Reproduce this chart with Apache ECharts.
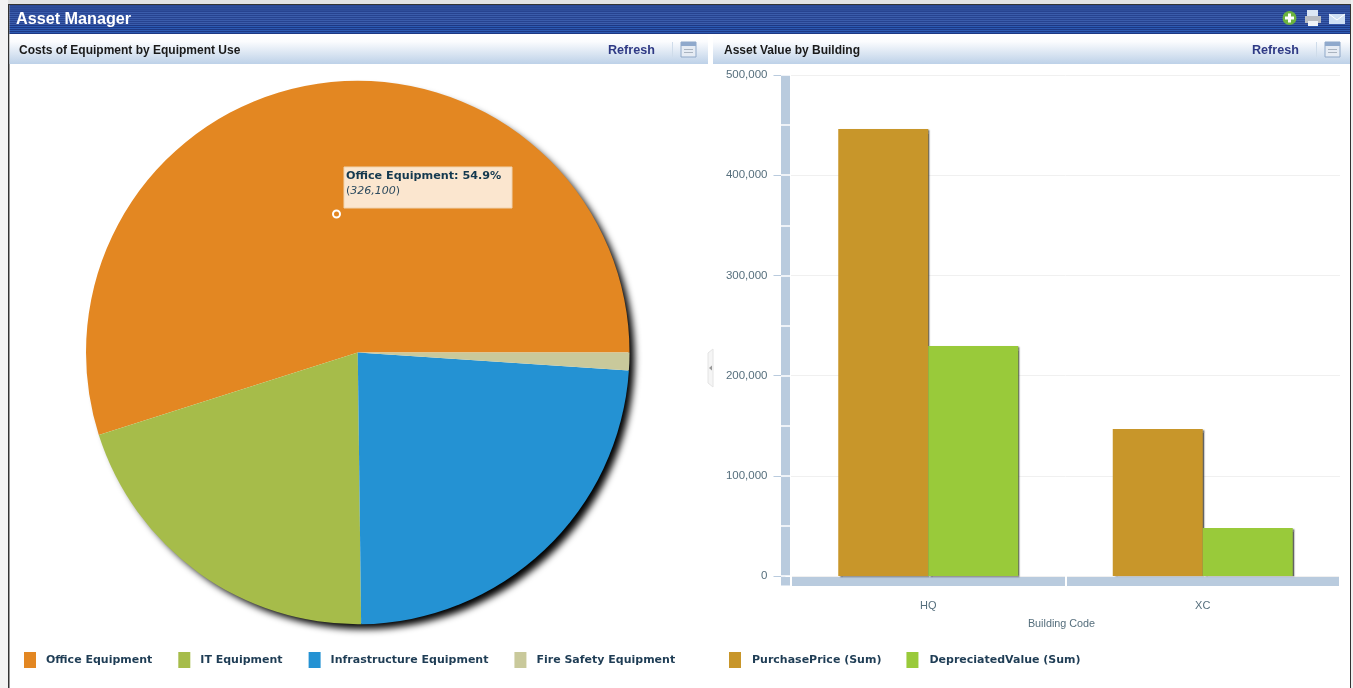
<!DOCTYPE html>
<html><head><meta charset="utf-8">
<style>html,body{margin:0;padding:0;background:#fff;overflow:hidden}#c{width:1353px;height:688px}</style>
<script src="https://cdn.jsdelivr.net/npm/echarts@6/dist/echarts.min.js"></script>
</head><body><div id="c"></div>
<script>
const useNames = ['Office Equipment','IT Equipment','Infrastructure Equipment','Fire Safety Equipment'];
const useCosts = [326100,120500,141000,6300];
const useColors = ['#e38722','#a6bc4a','#2492d3','#c9c99b'];
const buildings = ['HQ','XC'];
const purchasePrice = [446000,146800];
const depreciatedValue = [229500,48000];
const barNames = ['PurchasePrice (Sum)','DepreciatedValue (Sum)'];
const barColors = ['#c8962a','#99ca3a'];
const yTicks = [0,100000,200000,300000,400000,500000];
const pageTitle = 'Asset Manager';
const panelTitles = ['Costs of Equipment by Equipment Use','Asset Value by Building'];
const refreshLabel = 'Refresh';

const total = useCosts.reduce((a,b)=>a+b,0);
const band = '#b9cbde', axisText = '#566f7d', legendText = '#1f3d55';
const sans = '"Liberation Sans",Arial,sans-serif', wide = '"DejaVu Sans",Verdana,sans-serif';

function stripes(){
  const s=[], H=29;
  for(let i=0;i<H;i++){
    let col;
    const odd=i%2===1;
    if(i<6) col=odd?'#2e4d9a':'#2a4793';
    else if(i<20) col=odd?'#3a5cab':'#274390';
    else col=odd?'#2c5ab2':'#1d3884';
    s.push({offset:i/H,color:col},{offset:(i+1)/H,color:col});
  }
  return {type:'linear',x:0,y:0,x2:0,y2:1,colorStops:s};
}
const headGrad={type:'linear',x:0,y:0,x2:0,y2:1,colorStops:[{offset:0,color:'#ffffff'},{offset:.25,color:'#fbfcfe'},{offset:1,color:'#bdd1e8'}]};

function panelIcon(x){return [
  {type:'rect',shape:{x:x-9,y:42,width:1,height:15},style:{fill:'#cfdcea'}},
  {type:'rect',shape:{x:x,y:42,width:15,height:15},style:{fill:'#e6ecf4',stroke:'#8fa8c8',lineWidth:1}},
  {type:'rect',shape:{x:x,y:42,width:15,height:4},style:{fill:'#8fa9cc'}},
  {type:'rect',shape:{x:x+3,y:49,width:9,height:1},style:{fill:'#aab4c0'}},
  {type:'rect',shape:{x:x+3,y:52,width:9,height:1},style:{fill:'#aab4c0'}}
];}
const refreshText=x=>({type:'text',x:x,y:44,style:{text:refreshLabel,fill:'#2f3a85',font:'bold 12.6px '+sans}});

const graphics=[
  {type:'rect',shape:{x:0,y:0,width:1353,height:4},style:{fill:'#e2e2e2'}},
  {type:'rect',shape:{x:0,y:0,width:8,height:688},style:{fill:'#f3f3f3'}},
  {type:'rect',shape:{x:1351,y:0,width:2,height:688},style:{fill:'#f0f0f0'}},
  {type:'rect',shape:{x:8,y:4,width:1.5,height:684},style:{fill:'#333333'}},
  {type:'rect',shape:{x:1350,y:4,width:1,height:684},style:{fill:'#333333'}},
  {type:'rect',shape:{x:8,y:4,width:1343,height:1},style:{fill:'#333333'}},
  {type:'rect',shape:{x:9.5,y:5,width:1340.5,height:29},style:{fill:stripes()}},
  {type:'rect',shape:{x:9.5,y:34,width:698.5,height:30},style:{fill:headGrad}},
  {type:'rect',shape:{x:713,y:34,width:637,height:30},style:{fill:headGrad}},
  {type:'text',x:16,y:12,style:{text:pageTitle,fill:'#ffffff',font:'bold 16.2px '+sans}},
  refreshText(608),refreshText(1252),
  ...panelIcon(681),...panelIcon(1325),
  // page toolbar icons
  {type:'circle',shape:{cx:1289.5,cy:18,r:7},style:{fill:'#6cb33f'}},
  {type:'rect',shape:{x:1288,y:13.5,width:3,height:9},style:{fill:'#fff'}},
  {type:'rect',shape:{x:1285,y:16.5,width:9,height:3},style:{fill:'#fff'}},
  {type:'rect',shape:{x:1307,y:10,width:11,height:8},style:{fill:'#dbe6f4'}},
  {type:'rect',shape:{x:1305,y:16,width:16,height:7},style:{fill:'#b8bcc2'}},
  {type:'rect',shape:{x:1308,y:21,width:10,height:5},style:{fill:'#eef2f7'}},
  {type:'rect',shape:{x:1329,y:14,width:16,height:10},style:{fill:'#cfe0f5'}},
  {type:'polyline',shape:{points:[[1329,14],[1337,20],[1345,14]]},style:{stroke:'#ffffff',fill:'none',lineWidth:1}},
  // splitter handle
  {type:'polygon',shape:{points:[[708,353],[713,349],[713,387],[708,383]]},style:{fill:'#f5f5f5',stroke:'#e4e4e4',lineWidth:1}},
  {type:'polygon',shape:{points:[[709,368],[712,365.5],[712,370.5]]},style:{fill:'#999999'}},
  // corner of the axis band
  {type:'rect',shape:{x:781,y:577,width:9,height:8.5},style:{fill:band}},
  // static tooltip on the Office Equipment slice
  {type:'rect',z:100,shape:{x:344,y:167,width:168,height:41},style:{fill:'#fbe6cf',stroke:'#f0d3ae',lineWidth:1}},
  {type:'text',z:101,x:346,y:171,style:{text:useNames[0]+': '+(useCosts[0]/total*100).toFixed(1)+'%',fill:'#14394f',font:'bold 11.2px '+wide}},
  {type:'text',z:101,x:346,y:186,style:{text:'{p|(}{n|'+useCosts[0].toLocaleString('en-US')+'}{p|)}',
    rich:{p:{fill:'#2c4a5e',font:'11px '+wide},n:{fill:'#2c4a5e',font:'italic 11px '+wide}}}},
  {type:'circle',z:101,shape:{cx:336.5,cy:214,r:3.5},style:{fill:'#e38722',stroke:'#ffffff',lineWidth:2}}
];

const chart=echarts.init(document.getElementById('c'),null,{renderer:'canvas'});
chart.setOption({
  animation:false,
  backgroundColor:'#ffffff',
  title:[
    {text:panelTitles[0],left:19,top:45,padding:0,textStyle:{fontFamily:sans,fontSize:12,fontWeight:'bold',color:'#1a1a1a'}},
    {text:panelTitles[1],left:724,top:45,padding:0,textStyle:{fontFamily:sans,fontSize:12,fontWeight:'bold',color:'#1a1a1a'}}
  ],
  legend:[
    {data:useNames,left:24,top:652,padding:0,itemWidth:12,itemHeight:16,itemGap:26,icon:'rect',selectedMode:false,
     textStyle:{fontFamily:wide,fontSize:11,fontWeight:'bold',color:legendText,padding:[1,0,0,5]}},
    {data:barNames,left:729,top:652,padding:0,itemWidth:12,itemHeight:16,itemGap:25,icon:'rect',selectedMode:false,
     textStyle:{fontFamily:wide,fontSize:11,fontWeight:'bold',color:legendText,padding:[1,0,0,6]}}
  ],
  grid:{left:791,top:75,width:549,height:501},
  xAxis:[
    {type:'category',data:buildings,position:'bottom',z:6,
     axisLine:{show:false,onZero:false},
     axisTick:{show:true,length:10,lineStyle:{color:'#ffffff',width:2}},
     axisLabel:{color:axisText,fontFamily:sans,fontSize:11,margin:24},
     name:'Building Code',nameLocation:'middle',nameGap:43,
     nameTextStyle:{color:axisText,fontFamily:sans,fontSize:10.8,padding:[0,8,0,0]}},
    {type:'category',data:buildings,position:'bottom',offset:5,z:3,
     axisLine:{show:true,onZero:false,lineStyle:{color:band,width:9,cap:'butt'}},
     axisTick:{show:false},axisLabel:{show:false}}
  ],
  yAxis:[
    {type:'value',min:0,max:500000,interval:100000,position:'left',offset:5.5,z:3,
     axisLine:{show:true,onZero:false,lineStyle:{color:band,width:9,cap:'butt'}},
     axisTick:{show:true,length:12,lineStyle:{color:band,width:1}},
     axisLabel:{color:axisText,fontFamily:sans,fontSize:11.5,margin:18,
       customValues:yTicks,formatter:v=>v.toLocaleString('en-US')},
     splitLine:{show:true,lineStyle:{color:'#f0f0f0',width:1}}},
    {type:'value',min:0,max:500000,interval:50000,position:'left',offset:0,z:6,
     axisLine:{show:false},axisLabel:{show:false},splitLine:{show:false},
     axisTick:{show:true,length:10,lineStyle:{color:'#ffffff',width:1.5}}}
  ],
  series:[
    {type:'pie',name:'shadow',silent:true,z:1,center:[358,352.5],radius:270.5,label:{show:false},labelLine:{show:false},
     legendHoverLink:false,tooltip:{show:false},
     data:[{value:total,name:'',itemStyle:{color:'#ffffff',shadowColor:'rgba(0,0,0,1)',shadowBlur:7,shadowOffsetX:6,shadowOffsetY:6}}]},
    {type:'pie',name:panelTitles[0],z:2,center:[357.75,352.5],radius:271.75,startAngle:0,clockwise:false,
     label:{show:false},labelLine:{show:false},silent:true,
     data:useNames.map((n,i)=>({name:n,value:useCosts[i],itemStyle:{color:useColors[i]}}))},
    {type:'bar',name:barNames[0],xAxisIndex:0,yAxisIndex:0,data:purchasePrice,barWidth:90,barGap:0,z:4,silent:true,
     itemStyle:{color:barColors[0],shadowColor:'rgba(60,60,60,.8)',shadowBlur:1.5,shadowOffsetX:2,shadowOffsetY:1}},
    {type:'bar',name:barNames[1],xAxisIndex:0,yAxisIndex:0,data:depreciatedValue,barWidth:90,barGap:0,z:4,silent:true,
     itemStyle:{color:barColors[1],shadowColor:'rgba(60,60,60,.8)',shadowBlur:1.5,shadowOffsetX:2,shadowOffsetY:1}}
  ],
  graphic:{elements:graphics}
});
</script></body></html>
